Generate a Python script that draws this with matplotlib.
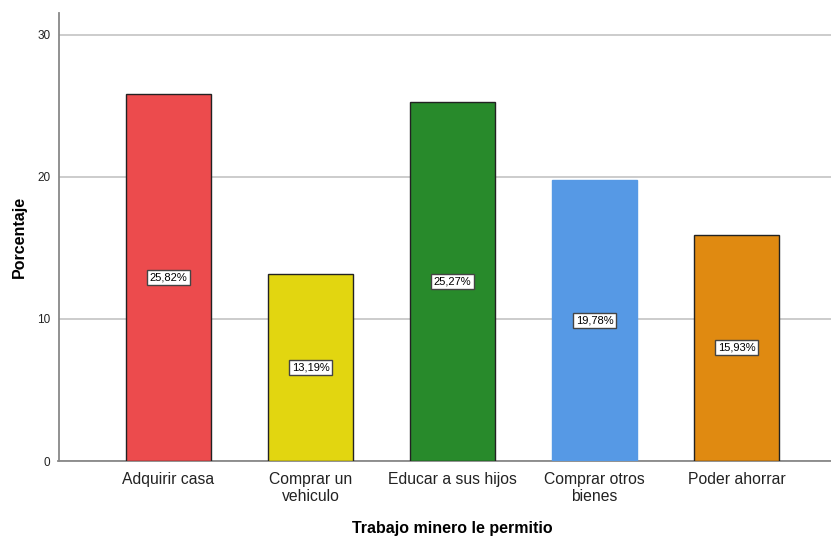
import matplotlib
matplotlib.use('Agg')
import matplotlib.pyplot as plt
import numpy as np

plt.rcParams['font.family'] = ['Liberation Sans', 'DejaVu Sans']

categories = ['Adquirir casa', 'Comprar un\nvehiculo', 'Educar a sus hijos',
              'Comprar otros\nbienes', 'Poder ahorrar']
percent = [25.82, 13.19, 25.27, 19.78, 15.93]
colors = ['#EC4B4D', '#E2D610', '#288A2B', '#5699E5', '#E08A11']
edges = ['#222222', '#222222', '#222222', '#5699E5', '#222222']

fig = plt.figure(figsize=(8.31, 5.39), dpi=100)
ax = fig.add_axes([58.5 / 831, 78 / 539, 1 - 58.5 / 831, (461 - 12.7) / 539])

x = np.arange(len(categories))
ax.bar(x, percent, width=0.6, color=colors, edgecolor=edges, linewidth=1, zorder=3)

for xi, v in zip(x, percent):
    ax.text(xi, v / 2, f'{v:.2f}%'.replace('.', ','), ha='center', va='center',
            fontsize=8, zorder=4,
            bbox=dict(boxstyle='square,pad=0.22', fc='white', ec='#444444', lw=1))

ax.set_xlim(-0.775, 4.666)
ax.set_ylim(0, 31.57)
ax.set_yticks([0, 10, 20, 30])
ax.yaxis.grid(True, color='#C8C8C8', linewidth=1.3, zorder=0)
ax.set_xticks(x)
ax.set_xticklabels(categories, fontsize=11.3, color='#222222', linespacing=1.15)
ax.tick_params(axis='y', length=0, labelsize=8.5, pad=6, labelcolor='#222222')
ax.tick_params(axis='x', length=0, pad=8)

for side in ['top', 'right']:
    ax.spines[side].set_visible(False)
for side in ['left', 'bottom']:
    ax.spines[side].set_color('#888888')
    ax.spines[side].set_linewidth(1.3)

ax.set_ylabel('Porcentaje', fontsize=11.5, fontweight='bold')
ax.yaxis.set_label_coords(-0.041, 0.5)
ax.set_xlabel('Trabajo minero le permitio', fontsize=11.5, fontweight='bold')
ax.xaxis.set_label_coords(0.51, -0.134)

fig.savefig('out.png', dpi=100)
